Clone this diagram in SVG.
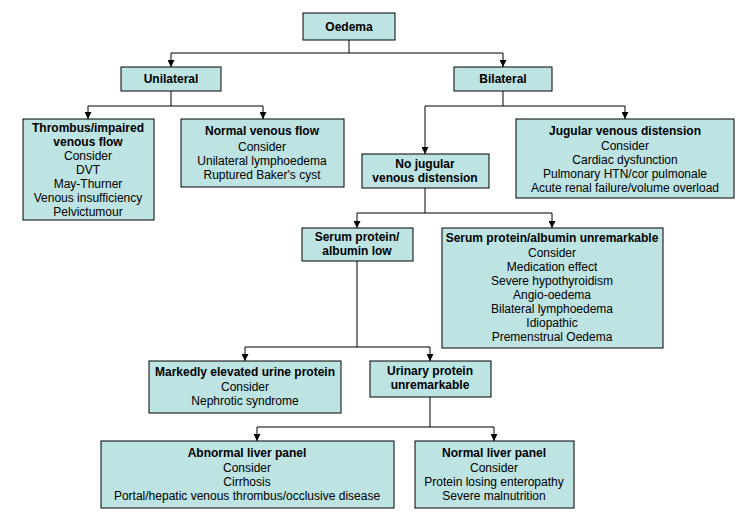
<svg xmlns="http://www.w3.org/2000/svg" width="740" height="522" viewBox="0 0 740 522">
<defs>
<style>
.b{fill:#bde3e3;stroke:#000;stroke-width:1}
text{font-family:"Liberation Sans",Arial,sans-serif;font-size:12px;text-anchor:middle;fill:#000}
.h{font-weight:bold}
.c{fill:none;stroke:#000;stroke-width:1}
</style>
<marker id="a" viewBox="0 0 10 10" refX="10" refY="5" markerWidth="7" markerHeight="7" orient="auto"><path d="M0,0L10,5L0,10z" fill="#000"/></marker>
</defs>
<rect width="740" height="522" fill="#fff"/>
<g id="connectors">
<path class="c" d="M349,40V53M171,53H503"/><path class="c" d="M171,53V67" marker-end="url(#a)"/><path class="c" d="M503,53V67" marker-end="url(#a)"/>
<path class="c" d="M171,91V106M88,106H263"/><path class="c" d="M88,106V119" marker-end="url(#a)"/><path class="c" d="M263,106V119" marker-end="url(#a)"/>
<path class="c" d="M503,91V106M425,106H625"/><path class="c" d="M425,106V154" marker-end="url(#a)"/><path class="c" d="M625,106V119" marker-end="url(#a)"/>
<path class="c" d="M425,188V213M357,213H552"/><path class="c" d="M357,213V228" marker-end="url(#a)"/><path class="c" d="M552,213V228" marker-end="url(#a)"/>
<path class="c" d="M357,261V347M245,347H430"/><path class="c" d="M245,347V361" marker-end="url(#a)"/><path class="c" d="M430,347V361" marker-end="url(#a)"/>
<path class="c" d="M430,397V427M257,427H494"/><path class="c" d="M257,427V441" marker-end="url(#a)"/><path class="c" d="M494,427V441" marker-end="url(#a)"/>
</g>
<g id="oedema"><rect class="b" x="303" y="13" width="92" height="27"/><text class="h" x="349" y="31">Oedema</text></g>
<g id="unilateral"><rect class="b" x="121" y="67" width="100" height="24"/><text class="h" x="171" y="83">Unilateral</text></g>
<g id="bilateral"><rect class="b" x="454" y="67" width="98" height="24"/><text class="h" x="503" y="83">Bilateral</text></g>
<g id="thrombus"><rect class="b" x="23" y="119" width="131" height="101"/>
<text class="h" x="88" y="132">Thrombus/impaired</text><text class="h" x="88" y="146">venous flow</text>
<text x="88" y="160">Consider</text><text x="88" y="174">DVT</text><text x="88" y="188">May-Thurner</text><text x="88" y="202">Venous insufficiency</text><text x="88" y="216">Pelvictumour</text></g>
<g id="normalflow"><rect class="b" x="181" y="119" width="163" height="68"/>
<text class="h" x="262" y="135">Normal venous flow</text><text x="262" y="151">Consider</text><text x="262" y="165">Unilateral lymphoedema</text><text x="262" y="179">Ruptured Baker's cyst</text></g>
<g id="jvd"><rect class="b" x="516" y="119" width="218" height="79"/>
<text class="h" x="625" y="135">Jugular venous distension</text><text x="625" y="150">Consider</text><text x="625" y="164">Cardiac dysfunction</text><text x="625" y="178">Pulmonary HTN/cor pulmonale</text><text x="625" y="192">Acute renal failure/volume overload</text></g>
<g id="nojvd"><rect class="b" x="362" y="154" width="127" height="34"/>
<text class="h" x="425" y="168">No jugular</text><text class="h" x="425" y="182">venous distension</text></g>
<g id="serumlow"><rect class="b" x="302" y="228" width="111" height="33"/>
<text class="h" x="357" y="241">Serum protein/</text><text class="h" x="357" y="255">albumin low</text></g>
<g id="serumok"><rect class="b" x="442" y="228" width="221" height="120"/>
<text class="h" x="552" y="242">Serum protein/albumin unremarkable</text><text x="552" y="257">Consider</text><text x="552" y="271">Medication effect</text><text x="552" y="285">Severe hypothyroidism</text><text x="552" y="299">Angio-oedema</text><text x="552" y="313">Bilateral lymphoedema</text><text x="552" y="327">Idiopathic</text><text x="552" y="341">Premenstrual Oedema</text></g>
<g id="urine"><rect class="b" x="149" y="361" width="192" height="52"/>
<text class="h" x="245" y="376">Markedly elevated urine protein</text><text x="245" y="391">Consider</text><text x="245" y="405">Nephrotic syndrome</text></g>
<g id="urinaryok"><rect class="b" x="370" y="361" width="121" height="36"/>
<text class="h" x="430" y="375">Urinary protein</text><text class="h" x="430" y="389">unremarkable</text></g>
<g id="abnliver"><rect class="b" x="101" y="441" width="293" height="67"/>
<text class="h" x="247" y="457">Abnormal liver panel</text><text x="247" y="472">Consider</text><text x="247" y="486">Cirrhosis</text><text x="247" y="500">Portal/hepatic venous thrombus/occlusive disease</text></g>
<g id="normliver"><rect class="b" x="415" y="441" width="159" height="67"/>
<text class="h" x="494" y="457">Normal liver panel</text><text x="494" y="472">Consider</text><text x="494" y="486">Protein losing enteropathy</text><text x="494" y="500">Severe malnutrition</text></g>
</svg>
